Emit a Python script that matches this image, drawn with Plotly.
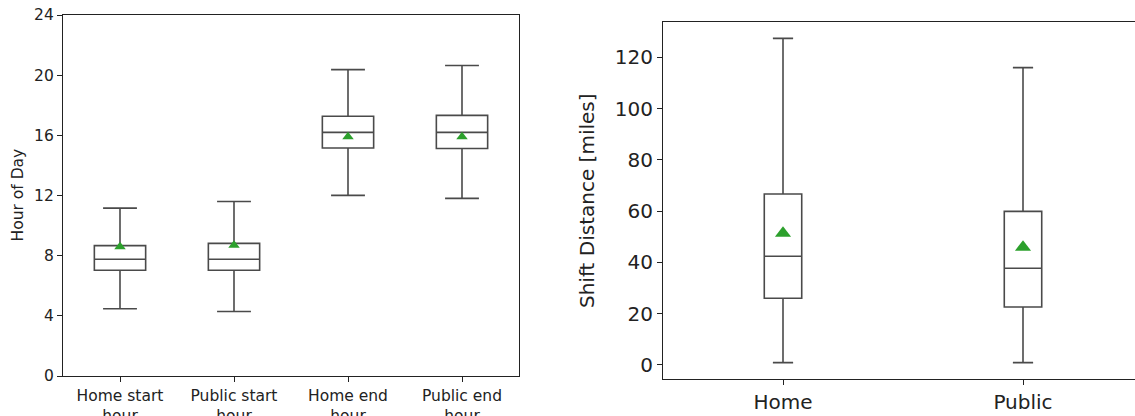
import plotly.graph_objects as go

# Left panel: hour of day
hour_cats = ["Home start<br>hour", "Public start<br>hour", "Home end<br>hour", "Public end<br>hour"]
hour_low = [4.47, 4.29, 12.01, 11.81]
hour_q1 = [7.03, 7.03, 15.16, 15.12]
hour_med = [7.76, 7.76, 16.2, 16.2]
hour_q3 = [8.67, 8.82, 17.27, 17.33]
hour_high = [11.16, 11.6, 20.37, 20.64]
hour_mean = [8.6, 8.7, 15.9, 15.9]
hour_ticks = [0, 4, 8, 12, 16, 20, 24]

# Right panel: shift distance
dist_cats = ["Home", "Public"]
dist_low = [0.9, 0.9]
dist_q1 = [26.0, 22.6]
dist_med = [42.4, 37.7]
dist_q3 = [66.7, 59.9]
dist_high = [127.4, 116.0]
dist_mean = [51.4, 45.9]
dist_ticks = [0, 20, 40, 60, 80, 100, 120]

W, H = 1135, 416
box_line = "#4a4a4a"
green = "#2ca02c"
axis_col = "#222222"
font_fam = "DejaVu Sans"

fig = go.Figure()

fig.add_trace(go.Box(
    x=hour_cats, q1=hour_q1, median=hour_med, q3=hour_q3,
    lowerfence=hour_low, upperfence=hour_high,
    xaxis="x", yaxis="y", width=0.45, whiskerwidth=0.66,
    fillcolor="white", line=dict(color=box_line, width=1.6),
    boxpoints=False, showlegend=False, hoverinfo="skip"))
fig.add_trace(go.Scatter(
    x=hour_cats, y=hour_mean, mode="markers", xaxis="x", yaxis="y",
    marker=dict(symbol="triangle-up", size=10, color=green),
    showlegend=False, hoverinfo="skip"))

fig.add_trace(go.Box(
    x=dist_cats, q1=dist_q1, median=dist_med, q3=dist_q3,
    lowerfence=dist_low, upperfence=dist_high,
    xaxis="x2", yaxis="y2", width=0.156, whiskerwidth=0.54,
    fillcolor="white", line=dict(color=box_line, width=1.6),
    boxpoints=False, showlegend=False, hoverinfo="skip"))
fig.add_trace(go.Scatter(
    x=dist_cats, y=dist_mean, mode="markers", xaxis="x2", yaxis="y2",
    marker=dict(symbol="triangle-up", size=14, color=green),
    showlegend=False, hoverinfo="skip"))

# pixel geometry
L1, R1, T1, B1 = 63, 519, 15, 376
L2, R2, T2, B2 = 663, 1135, 21.7, 379

common_axis = dict(showgrid=False, zeroline=False, showline=True, linecolor=axis_col,
                   linewidth=1.2, ticks="outside", ticklen=5, tickwidth=1.1,
                   tickcolor=axis_col, automargin=False)

fig.update_layout(
    width=W, height=H, margin=dict(l=0, r=0, t=0, b=0, autoexpand=False),
    paper_bgcolor="white", plot_bgcolor="white",
    font=dict(family=font_fam, color=axis_col),
    xaxis=dict(domain=[L1 / W, R1 / W], anchor="y", type="category",
               range=[-0.5, 3.5], mirror=True, tickfont=dict(size=15.5),
               **common_axis),
    yaxis=dict(domain=[(H - B1) / H, (H - T1) / H], anchor="x",
               range=[0, 24], tickvals=hour_ticks, mirror=True,
               tickfont=dict(size=15.5), **common_axis),
    xaxis2=dict(domain=[L2 / W, 1.0], anchor="y2", type="category",
                range=[-0.5, (R2 - 783) / 240], mirror=True,
                tickfont=dict(size=20), **common_axis),
    yaxis2=dict(domain=[(H - B2) / H, (H - T2) / H], anchor="x2",
                range=[-5.5, 133.9], tickvals=dist_ticks, mirror=False,
                tickfont=dict(size=20), **common_axis),
    annotations=[
        dict(text="Hour of Day", xref="paper", yref="paper",
             x=17 / W, y=(H - 195.5) / H, textangle=-90, showarrow=False,
             font=dict(size=15.5, color=axis_col), xanchor="center", yanchor="middle"),
        dict(text="Shift Distance [miles]", xref="paper", yref="paper",
             x=587 / W, y=(H - 201) / H, textangle=-90, showarrow=False,
             font=dict(size=20, color=axis_col), xanchor="center", yanchor="middle"),
    ],
)

fig.write_html("out.html")
